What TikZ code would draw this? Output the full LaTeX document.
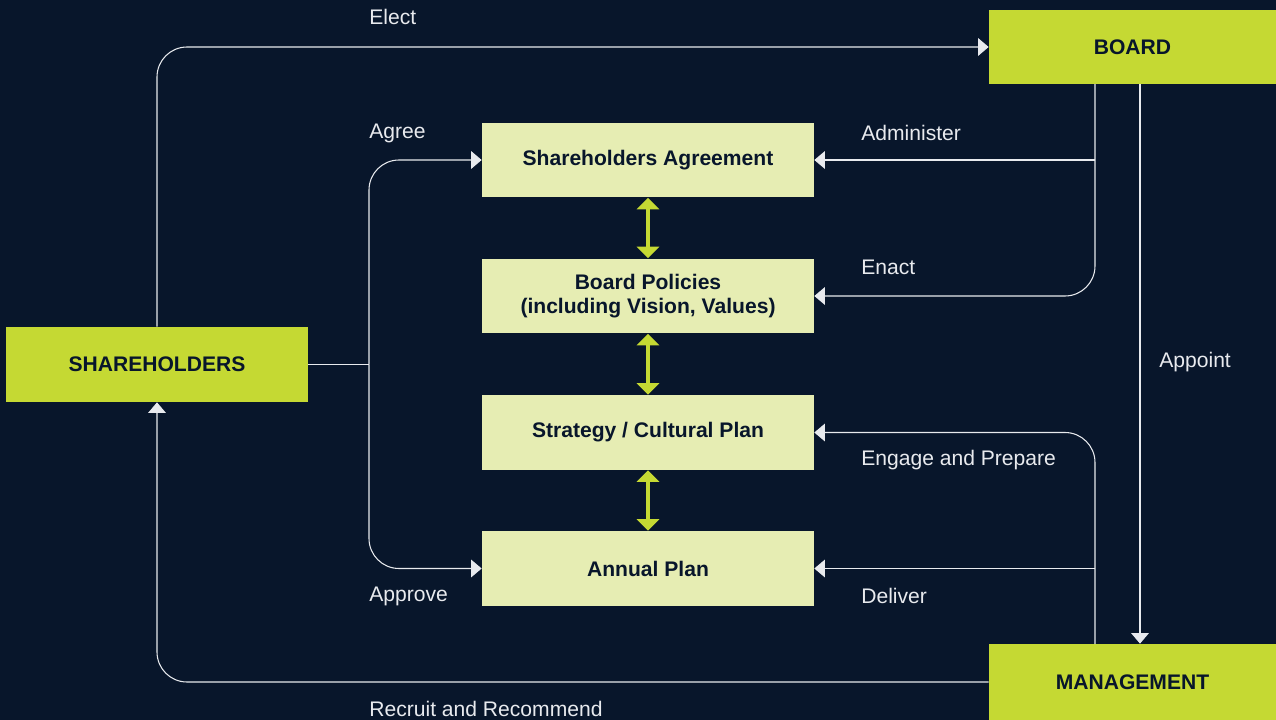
\documentclass[tikz,border=0pt]{standalone}
\usepackage{fontspec}
\setmainfont{Liberation Sans}
\usetikzlibrary{arrows.meta}

\definecolor{navy}{RGB}{8,22,43}
\definecolor{lime}{RGB}{197,217,51}
\definecolor{palelime}{RGB}{230,237,179}
\definecolor{wire}{RGB}{232,234,238}

\tikzset{
  mainbox/.style={fill=lime, text=navy, font=\fontsize{12}{14}\selectfont\bfseries,
    minimum height=1.5cm, inner sep=0pt},
  planbox/.style={fill=palelime, text=navy, font=\fontsize{12}{14}\selectfont\bfseries,
    minimum width=6.64cm, minimum height=1.5cm, align=center, inner sep=0pt},
  flow/.style={draw=wire, line width=0.6pt, rounded corners=0.6cm,
    -{Triangle[width=10pt,length=6pt]}},
  wire/.style={draw=wire, line width=0.6pt},
  twoway/.style={draw=lime, line width=2.6pt,
    {Triangle[width=12.5pt,length=6.5pt]}-{Triangle[width=12.5pt,length=6.5pt]}},
  lbl/.style={text=wire, font=\fontsize{12}{14}\selectfont, anchor=west, inner sep=0pt}
}

\begin{document}
\begin{tikzpicture}[x=0.02cm,y=-0.02cm]

\fill[navy] (0,0) rectangle (1276,720);
\useasboundingbox (0,0) rectangle (1276,720);

% outer boxes
\node[mainbox, minimum width=5.74cm] (board) at (1132.5,47) {BOARD};
\node[mainbox, minimum width=5.74cm, minimum height=1.52cm] (mgmt) at (1132.5,682) {MANAGEMENT};
\node[mainbox, minimum width=6.04cm] (share) at (157,364.5) {SHAREHOLDERS};

% plan stack
\node[planbox] (agree) at (648,160) {Shareholders Agreement};
\node[planbox] (policy) at (648,296) {Board Policies\\(including Vision, Values)};
\node[planbox] (strat) at (648,432.5) {Strategy / Cultural Plan};
\node[planbox] (annual) at (648,568.5) {Annual Plan};

\draw[twoway] (agree) -- (policy);
\draw[twoway] (policy) -- (strat);
\draw[twoway] (strat) -- (annual);

% shareholders side
\coordinate (split) at (369,364.5);
\draw[flow] (share.north) |- (board.west);
\draw[wire] (share.east) -- (split);
\draw[flow] (split) |- (agree.west);
\draw[flow] (split) |- (annual.west);
\draw[flow] (mgmt.west) -| (share.south);

% board side
\coordinate (bdrop) at (1095,84);
\coordinate (appt) at (1140,84);
\draw[flow] (bdrop) |- (policy.east);
\draw[flow] (bdrop |- agree.east) -- (agree.east);
\draw[flow] (appt) -- (appt |- mgmt.north);

% management side
\coordinate (mrise) at (1095,644);
\draw[flow] (mrise) |- (strat.east);
\draw[flow] (mrise |- annual.east) -- (annual.east);

% labels
\node[lbl] (lelect) at (369,17) {Elect};
\node[lbl] (lagree) at (369,133) {Agree};
\node[lbl] (lapprove) at (369,596) {Approve};
\node[lbl] (lrecruit) at (369,709) {Recruit and Recommend};
\node[lbl] (ladmin) at (861,133) {Administer};
\node[lbl] (lenact) at (861,267) {Enact};
\node[lbl] (lengage) at (861,460) {Engage and Prepare};
\node[lbl] (ldeliver) at (861,596) {Deliver};
\node[lbl] (lappoint) at (1159,362) {Appoint};

\end{tikzpicture}
\end{document}
